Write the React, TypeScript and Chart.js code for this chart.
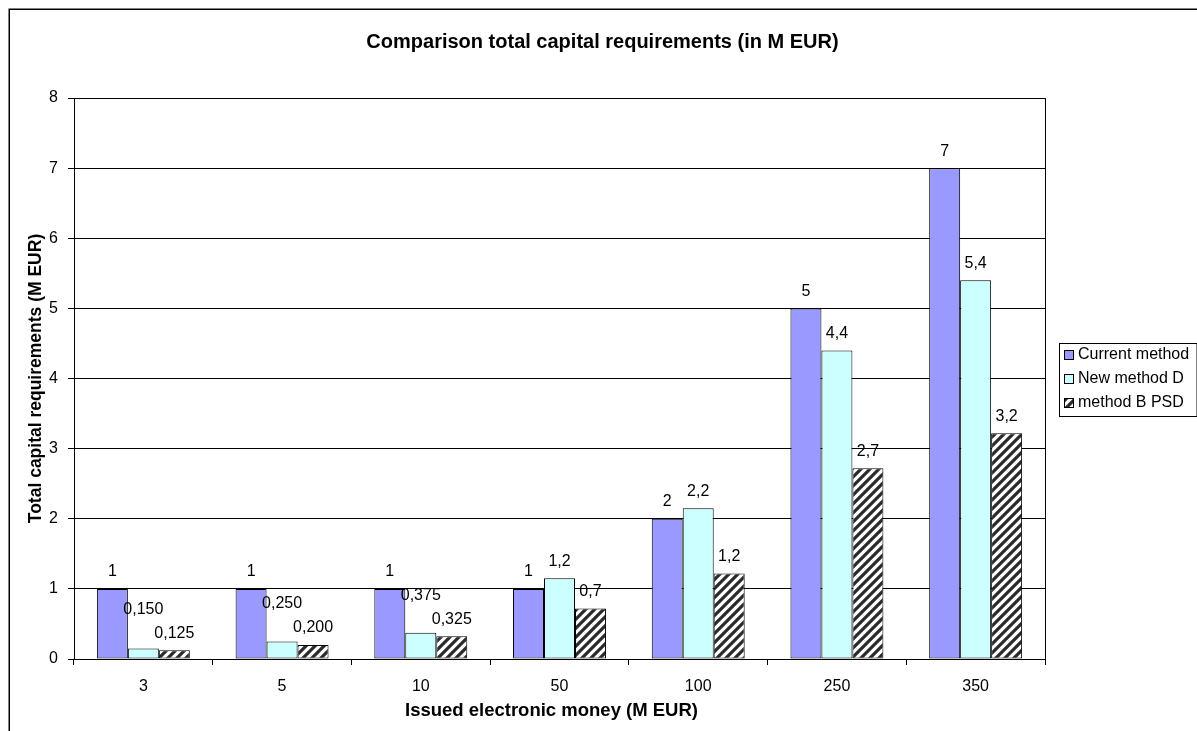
import React, { useEffect, useRef } from "react";
import { Chart, registerables } from "chart.js";

Chart.register(...registerables);

const categories = ["3", "5", "10", "50", "100", "250", "350"];
const seriesNames = ["Current method", "New method D", "method B PSD"];
const currentMethod = [1, 1, 1, 1, 2, 5, 7];
const newMethodD = [0.15, 0.25, 0.375, 1.15, 2.15, 4.4, 5.4];
const methodBPSD = [0.125, 0.2, 0.325, 0.72, 1.22, 2.72, 3.22];
const currentLabels = ["1", "1", "1", "1", "2", "5", "7"];
const newMethodDLabels = ["0,150", "0,250", "0,375", "1,2", "2,2", "4,4", "5,4"];
const methodBLabels = ["0,125", "0,200", "0,325", "0,7", "1,2", "2,7", "3,2"];
const chartTitle = "Comparison total capital requirements (in M EUR)";
const xTitle = "Issued electronic money (M EUR)";
const yTitle = "Total capital requirements (M EUR)";
const yMin = 0;
const yMax = 8;
const yStep = 1;

const FONT = "'Liberation Sans', Arial, sans-serif";
const W = 1189;
const H = 723;

function makeHatch(): CanvasPattern | string {
  const n = 9;
  const c = document.createElement("canvas");
  c.width = n;
  c.height = n;
  const g = c.getContext("2d");
  if (!g) return "#555";
  g.fillStyle = "#ffffff";
  g.fillRect(0, 0, n, n);
  g.strokeStyle = "#2a2a2a";
  g.lineWidth = 3.2;
  g.beginPath();
  g.moveTo(-1, n + 1);
  g.lineTo(n + 1, -1);
  g.moveTo(-n / 2 - 1, n / 2 + 1);
  g.lineTo(n / 2 + 1, -n / 2 - 1);
  g.moveTo(n / 2 - 1, n * 1.5 + 1);
  g.lineTo(n * 1.5 + 1, n / 2 - 1);
  g.stroke();
  const p = g.createPattern(c, "repeat");
  return p || "#555";
}

export default function App() {
  const ref = useRef<HTMLCanvasElement | null>(null);

  useEffect(() => {
    const canvas = ref.current;
    if (!canvas) return;
    const hatch = makeHatch();
    const fills: any[] = ["#9999FF", "#CCFFFF", hatch];
    const labelSets = [currentLabels, newMethodDLabels, methodBLabels];

    const framePlugin = {
      id: "frame",
      beforeDraw(chart: any) {
        const ctx = chart.ctx;
        ctx.save();
        ctx.fillStyle = "#ffffff";
        ctx.fillRect(0, 0, chart.width, chart.height);
        ctx.strokeStyle = "#000";
        ctx.lineWidth = 1.5;
        ctx.strokeRect(1.25, 1.25, chart.width + 20, chart.height + 20);
        ctx.fillStyle = "#000";
        ctx.font = `bold 20px ${FONT}`;
        ctx.textAlign = "center";
        ctx.textBaseline = "middle";
        ctx.fillText(chartTitle, chart.width / 2, 34);
        ctx.restore();
      },
      afterDatasetsDraw(chart: any) {
        const { ctx, chartArea } = chart;
        ctx.save();
        ctx.strokeStyle = "#000";
        ctx.lineWidth = 1;
        const l = Math.round(chartArea.left - 0.5) + 0.5;
        const t = Math.round(chartArea.top - 0.5) + 0.5;
        const r = Math.round(chartArea.right - 0.5) + 0.5;
        const b = Math.round(chartArea.bottom - 0.5) + 0.5;
        ctx.strokeRect(l, t, r - l, b - t);
        ctx.fillStyle = "#000";
        ctx.font = `bold 18.5px ${FONT}`;
        ctx.textAlign = "center";
        ctx.textBaseline = "middle";
        ctx.fillText(xTitle, (chartArea.left + chartArea.right) / 2 - 8, chart.height - 20);
        ctx.restore();
      },
    };

    const labelPlugin = {
      id: "barLabels",
      afterDatasetsDraw(chart: any) {
        const ctx = chart.ctx;
        ctx.save();
        ctx.font = `16px ${FONT}`;
        ctx.fillStyle = "#000";
        ctx.textAlign = "center";
        ctx.textBaseline = "middle";
        for (let i = 0; i < categories.length; i++) {
          const boxes = chart.data.datasets.map((_: any, d: number) => {
            const el = chart.getDatasetMeta(d).data[i];
            const text = labelSets[d][i];
            return { x: el.x, y: el.y - 17, w: ctx.measureText(text).width, text };
          });
          for (let d = boxes.length - 2; d >= 0; d--) {
            for (let e = d + 1; e < boxes.length; e++) {
              const a = boxes[d];
              const b = boxes[e];
              const hOverlap = Math.abs(a.x - b.x) < (a.w + b.w) / 2 + 2;
              const vOverlap = Math.abs(a.y - b.y) < 16;
              if (hOverlap && vOverlap) a.y = Math.min(a.y, b.y - 24);
            }
          }
          boxes.forEach((b: any) => ctx.fillText(b.text, b.x, b.y));
        }
        ctx.restore();
      },
    };

    const legendPlugin = {
      id: "boxLegend",
      afterDraw(chart: any) {
        const { ctx, chartArea } = chart;
        ctx.save();
        const left = Math.round(chartArea.right) + 14;
        const midY = (chartArea.top + chartArea.bottom) / 2;
        const top = Math.round(midY) - 36;
        const w = chart.width - left - 0.5;
        ctx.strokeStyle = "#000";
        ctx.lineWidth = 1;
        ctx.strokeRect(left + 0.5, top + 0.5, w, 73);
        ctx.font = `16px ${FONT}`;
        ctx.textBaseline = "middle";
        ctx.textAlign = "left";
        seriesNames.forEach((name, k) => {
          const cy = top + 12 + k * 24;
          ctx.fillStyle = fills[k];
          ctx.fillRect(left + 5, cy - 5, 10, 10);
          ctx.strokeStyle = "#000";
          ctx.strokeRect(left + 5.5, cy - 4.5, 9, 9);
          ctx.fillStyle = "#000";
          ctx.fillText(name, left + 19, cy);
        });
        ctx.restore();
      },
    };

    const chart = new Chart(canvas, {
      type: "bar",
      data: {
        labels: categories,
        datasets: [
          { label: seriesNames[0], data: currentMethod, backgroundColor: fills[0] },
          { label: seriesNames[1], data: newMethodD, backgroundColor: fills[1] },
          { label: seriesNames[2], data: methodBPSD, backgroundColor: fills[2] },
        ].map((d) => ({
          ...d,
          borderColor: "#000",
          borderWidth: 1,
          borderSkipped: false,
          categoryPercentage: 0.67,
          barPercentage: 1,
        })) as any,
      },
      options: {
        responsive: false,
        animation: false,
        devicePixelRatio: 1,
        layout: { padding: { left: 0, right: 152, top: 90, bottom: 0 } },
        plugins: {
          legend: { display: false },
          tooltip: { enabled: false },
          title: { display: false },
        },
        scales: {
          x: {
            afterFit: (s: any) => {
              s.height = 72;
            },
            grid: {
              offset: true,
              drawOnChartArea: false,
              color: "#000",
              tickLength: 6,
            },
            border: { color: "#000" },
            ticks: { color: "#000", font: { family: FONT, size: 16 }, padding: 12 },
            title: { display: false },
          },
          y: {
            min: yMin,
            max: yMax,
            afterFit: (s: any) => {
              s.width = 66;
            },
            grid: { color: "#000", tickLength: 6 },
            border: { color: "#000" },
            ticks: {
              stepSize: yStep,
              color: "#000",
              font: { family: FONT, size: 16 },
              padding: 10,
            },
            title: {
              display: true,
              text: yTitle,
              color: "#000",
              font: { family: FONT, size: 17.5, weight: "bold" },
              padding: { top: 18, bottom: 0 },
            },
          },
        },
      },
      plugins: [framePlugin, labelPlugin, legendPlugin],
    });
    return () => chart.destroy();
  }, []);

  return (
    <div
      style={{
        position: "fixed",
        left: 0,
        top: 0,
        width: 1197,
        height: 731,
        overflow: "hidden",
        background: "#fff",
      }}
    >
      <canvas
        ref={ref}
        width={W}
        height={H}
        style={{ position: "absolute", left: 8, top: 8, width: W, height: H }}
      />
    </div>
  );
}
